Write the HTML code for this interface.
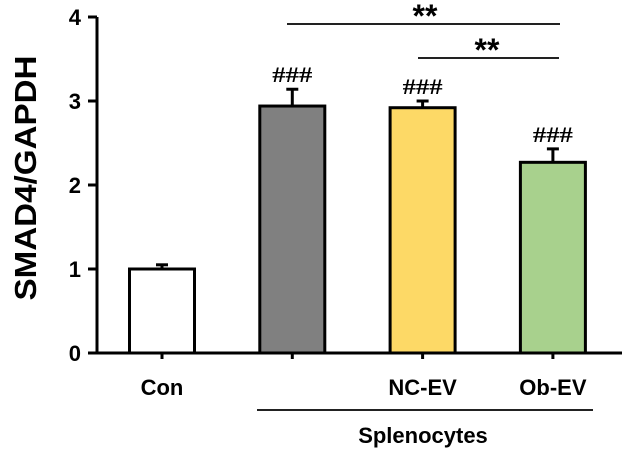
<!DOCTYPE html>
<html><head><meta charset="utf-8"><style>
body{margin:0;background:#fff;}
svg{display:block;font-family:"Liberation Sans",Arial,sans-serif;}
</style></head><body>
<svg id="chart" width="639" height="450"></svg>
<script>
const categories=["Con","","NC-EV","Ob-EV"];
const values=[1.0,2.94,2.92,2.27];
const errors=[0.05,0.2,0.08,0.16];
const colors=["#ffffff","#808080","#fdd966","#a8d18d"];
const sigMarks=["","###","###","###"];
const yTicks=[0,1,2,3,4];
const NS="http://www.w3.org/2000/svg";
const svg=document.getElementById('chart');
const y0=353,yTop=17,yMax=4;
const ys=v=>y0-(y0-yTop)*v/yMax;
const cx=i=>162+i*130.3;
const bw=65;
function mk(tag,attrs,text){const e=document.createElementNS(NS,tag);for(const k in attrs)e.setAttribute(k,attrs[k]);if(text!==undefined)e.textContent=text;svg.appendChild(e);return e;}
let e;
e=mk('line',{x1:97,y1:yTop,x2:97,y2:y0+1,stroke:'#000','stroke-width':3});


e=mk('line',{x1:88,y1:y0,x2:622,y2:y0,stroke:'#000','stroke-width':3});


yTicks.forEach(t=>{
 e=mk('line',{x1:88,y1:ys(t),x2:97,y2:ys(t),stroke:'#000','stroke-width':3});
 
 
 e=mk('text',{x:81,y:ys(t)+8,'text-anchor':'end','font-size':22,'font-weight':'bold'},String(t));
 
 
});
e=mk('text',{x:0,y:0,transform:'translate(36,178) rotate(-90)','text-anchor':'middle','font-size':31,'font-weight':'bold','textLength':245,'lengthAdjust':'spacingAndGlyphs'},'SMAD4/GAPDH');


values.forEach((v,i)=>{
 const x=cx(i);
 e=mk('line',{x1:x,y1:ys(v),x2:x,y2:ys(v+errors[i]),stroke:'#000','stroke-width':3});
 
 
 e=mk('line',{x1:x-6,y1:ys(v+errors[i]),x2:x+6,y2:ys(v+errors[i]),stroke:'#000','stroke-width':3});
 
 
 e=mk('rect',{x:x-bw/2,y:ys(v),width:bw,height:y0-ys(v),fill:colors[i],stroke:'#000','stroke-width':3});
 
 
 e=mk('line',{x1:x,y1:y0,x2:x,y2:y0+6,stroke:'#000','stroke-width':3});
 
 
 if(categories[i]){
  e=mk('text',{x:x,y:395,'text-anchor':'middle','font-size':22,'font-weight':'bold'},categories[i]);
  
  
 }
 if(sigMarks[i]){
  e=mk('text',{x:x,y:ys(v+errors[i])-7,'text-anchor':'middle','font-size':22,'font-weight':'bold','font-family':'Liberation Serif, serif','textLength':40,'lengthAdjust':'spacingAndGlyphs'},sigMarks[i]);
  
  
 }
});
e=mk('line',{x1:287,y1:24,x2:560,y2:24,stroke:'#222','stroke-width':2});


e=mk('text',{x:425,y:27,'text-anchor':'middle','font-size':32,'font-weight':'bold'},'**');


e=mk('line',{x1:418,y1:58,x2:559,y2:58,stroke:'#222','stroke-width':2});


e=mk('text',{x:487,y:61,'text-anchor':'middle','font-size':32,'font-weight':'bold'},'**');


e=mk('line',{x1:257,y1:410,x2:593,y2:410,stroke:'#222','stroke-width':2});


e=mk('text',{x:423,y:443,'text-anchor':'middle','font-size':22,'font-weight':'bold'},'Splenocytes');


</script>
</body></html>
